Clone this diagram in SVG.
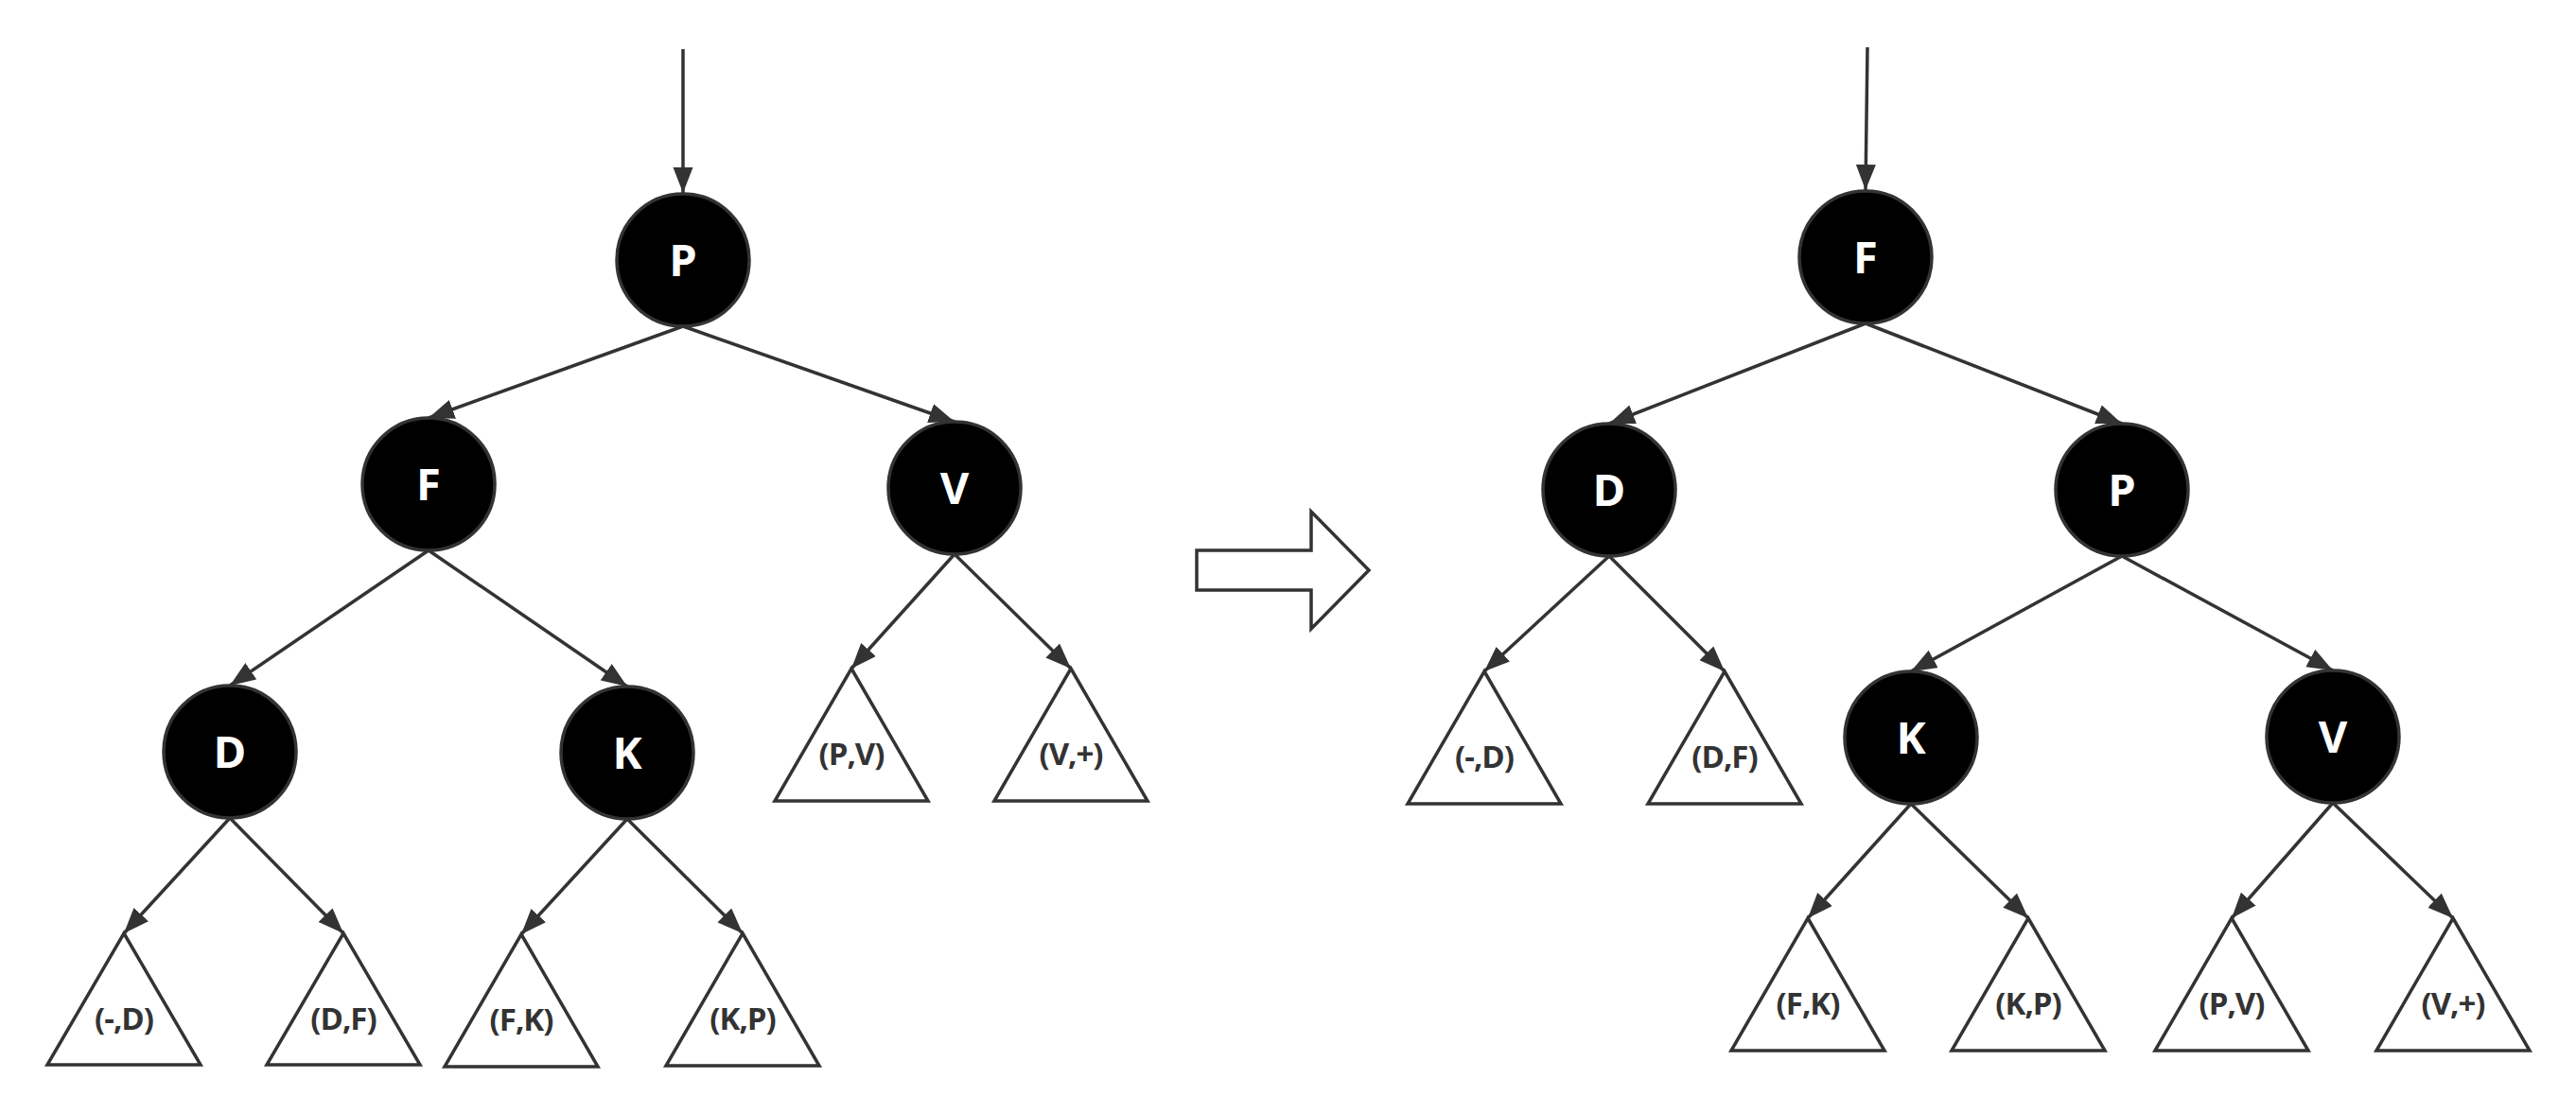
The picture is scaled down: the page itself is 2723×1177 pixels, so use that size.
<svg xmlns="http://www.w3.org/2000/svg" width="2723" height="1177" viewBox="0 0 2723 1177">
<defs>
<marker id="ah" markerUnits="userSpaceOnUse" markerWidth="28" markerHeight="22" refX="27" refY="10.5" orient="auto">
<path d="M0,0 L27,10.5 L0,21 z" fill="#333"/>
</marker>
<style>
.n circle{fill:#000;stroke:#333;stroke-width:3.5}
.n text{fill:#fff;font-family:"Open Sans","Noto Sans",sans-serif;font-weight:700;font-size:47px;text-anchor:middle}
.t path{fill:#fff;stroke:#333;stroke-width:3.5}
.t text{fill:#333;font-family:"Open Sans","Noto Sans",sans-serif;font-weight:700;font-size:33px;letter-spacing:-1px;text-anchor:middle}
.e line{stroke:#333;stroke-width:3.5;marker-end:url(#ah)}
</style>
</defs>
<rect width="2723" height="1177" fill="#fff"/>
<g id="connectors" class="e">
<line x1="722" y1="52" x2="722" y2="204"/>
<line x1="722" y1="345" x2="453" y2="442"/>
<line x1="722" y1="345" x2="1009" y2="446"/>
<line x1="453" y1="582" x2="243" y2="725"/>
<line x1="453" y1="582" x2="663" y2="726"/>
<line x1="243" y1="865" x2="131" y2="987"/>
<line x1="243" y1="865" x2="363" y2="987"/>
<line x1="663" y1="866" x2="551" y2="988"/>
<line x1="663" y1="866" x2="785" y2="987"/>
<line x1="1009" y1="586" x2="900" y2="707"/>
<line x1="1009" y1="586" x2="1132" y2="707"/>
<line x1="1974" y1="50" x2="1972" y2="201"/>
<line x1="1972" y1="342" x2="1701" y2="448"/>
<line x1="1972" y1="342" x2="2243" y2="448"/>
<line x1="1701" y1="588" x2="1569" y2="710"/>
<line x1="1701" y1="588" x2="1823" y2="710"/>
<line x1="2243" y1="588" x2="2020" y2="710"/>
<line x1="2243" y1="588" x2="2466" y2="709"/>
<line x1="2020" y1="850" x2="1911" y2="971"/>
<line x1="2020" y1="850" x2="2144" y2="971"/>
<line x1="2466" y1="849" x2="2359" y2="971"/>
<line x1="2466" y1="849" x2="2593" y2="971"/>
</g>
<g id="L-P" class="n"><circle cx="722" cy="275" r="70"/><text x="722" y="292">P</text></g>
<g id="L-F" class="n"><circle cx="453" cy="512" r="70"/><text x="453" y="529">F</text></g>
<g id="L-V" class="n"><circle cx="1009" cy="516" r="70"/><text x="1009" y="533">V</text></g>
<g id="L-D" class="n"><circle cx="243" cy="795" r="70"/><text x="243" y="812">D</text></g>
<g id="L-K" class="n"><circle cx="663" cy="796" r="70"/><text x="663" y="813">K</text></g>
<g id="L-t1" class="t"><path d="M131,987 L212,1126 L50,1126 Z"/><text x="131" y="1089">(-,D)</text></g>
<g id="L-t2" class="t"><path d="M363,987 L444,1126 L282,1126 Z"/><text x="363" y="1089">(D,F)</text></g>
<g id="L-t3" class="t"><path d="M551,988 L632,1128 L470,1128 Z"/><text x="551" y="1090">(F,K)</text></g>
<g id="L-t4" class="t"><path d="M785,987 L866,1127 L704,1127 Z"/><text x="785" y="1089">(K,P)</text></g>
<g id="L-t5" class="t"><path d="M900,707 L981,847 L819,847 Z"/><text x="900" y="809">(P,V)</text></g>
<g id="L-t6" class="t"><path d="M1132,707 L1213,847 L1051,847 Z"/><text x="1132" y="809">(V,+)</text></g>
<g id="arrow"><path d="M1265,582 L1386,582 L1386,541 L1447,603 L1386,665 L1386,624 L1265,624 Z" fill="#fff" stroke="#333" stroke-width="3.5"/></g>
<g id="R-F" class="n"><circle cx="1972" cy="272" r="70"/><text x="1972" y="289">F</text></g>
<g id="R-D" class="n"><circle cx="1701" cy="518" r="70"/><text x="1701" y="535">D</text></g>
<g id="R-P" class="n"><circle cx="2243" cy="518" r="70"/><text x="2243" y="535">P</text></g>
<g id="R-K" class="n"><circle cx="2020" cy="780" r="70"/><text x="2020" y="797">K</text></g>
<g id="R-V" class="n"><circle cx="2466" cy="779" r="70"/><text x="2466" y="796">V</text></g>
<g id="R-t1" class="t"><path d="M1569,710 L1650,850 L1488,850 Z"/><text x="1569" y="812">(-,D)</text></g>
<g id="R-t2" class="t"><path d="M1823,710 L1904,850 L1742,850 Z"/><text x="1823" y="812">(D,F)</text></g>
<g id="R-t3" class="t"><path d="M1911,971 L1992,1111 L1830,1111 Z"/><text x="1911" y="1073">(F,K)</text></g>
<g id="R-t4" class="t"><path d="M2144,971 L2225,1111 L2063,1111 Z"/><text x="2144" y="1073">(K,P)</text></g>
<g id="R-t5" class="t"><path d="M2359,971 L2440,1111 L2278,1111 Z"/><text x="2359" y="1073">(P,V)</text></g>
<g id="R-t6" class="t"><path d="M2593,971 L2674,1111 L2512,1111 Z"/><text x="2593" y="1073">(V,+)</text></g>
</svg>
